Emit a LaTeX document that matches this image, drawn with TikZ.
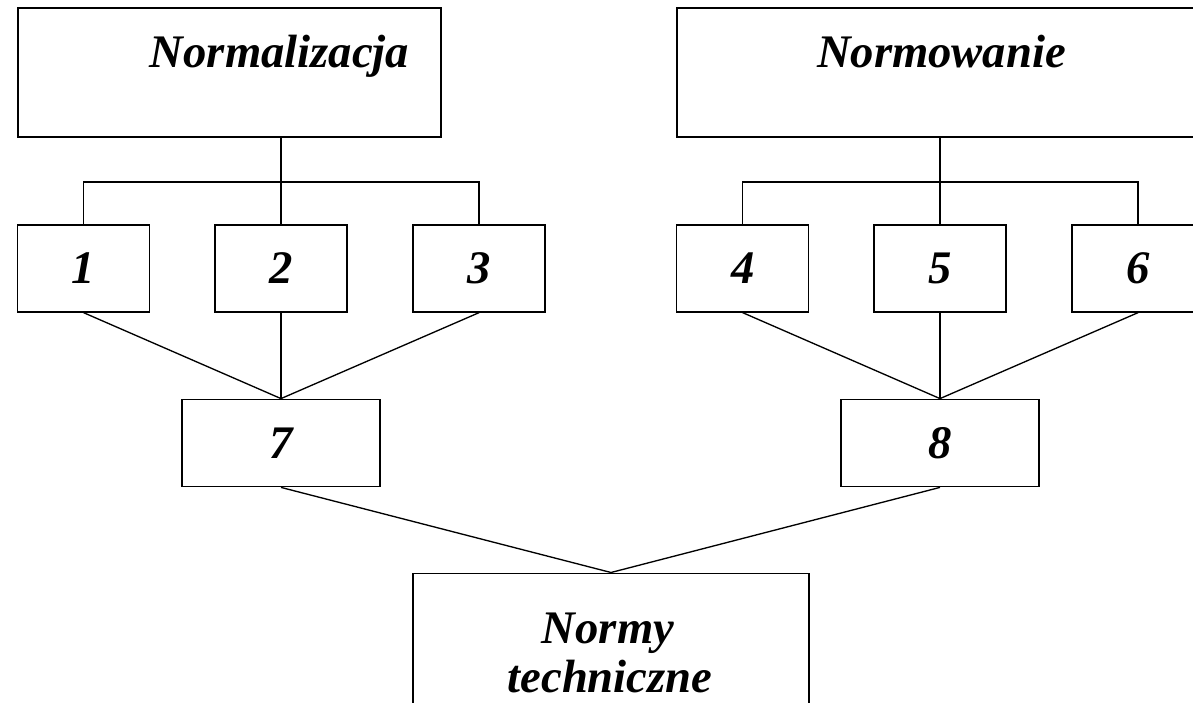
\documentclass[tikz,border=0pt]{standalone}
\usepackage{fontspec}
\setmainfont{Liberation Serif}
\begin{document}
\begin{tikzpicture}[x=0.75pt,y=-0.75pt,
  lbl/.style={font=\fontsize{35}{40}\selectfont\bfseries\itshape},
  bigbox/.style={draw,line width=1.5pt,rectangle,inner sep=0pt},
  smallbox/.style={draw,line width=1pt,rectangle,inner sep=0pt,lbl,
                   minimum width=99pt,minimum height=65.25pt},
  midbox/.style={draw,line width=1pt,rectangle,inner sep=0pt,lbl,
                 minimum width=148.5pt,minimum height=65.6pt},
  link/.style={line width=1pt}]
\useasboundingbox (0,0) rectangle (1193,703);
\clip (0,0) rectangle (1193,703);

% top boxes
\node[bigbox,minimum width=317.6pt,minimum height=96.75pt] (normA) at (229.25,72.5) {};
\node[bigbox,minimum width=392.25pt,minimum height=96.75pt] (normB) at (938.5,72.5) {};
\node[lbl,inner sep=0pt,anchor=base] (tA) at (279.5,67) {Normalizacja};
\node[lbl,inner sep=0pt,anchor=base] (tB) at (941.5,67) {Normowanie};

% numbered boxes
\node[smallbox] (b1) at (83.6,268.5) {1};
\node[smallbox] (b2) at (281,268.5) {2};
\node[smallbox] (b3) at (479,268.5) {3};
\node[smallbox] (b4) at (742.7,268.5) {4};
\node[smallbox] (b5) at (940,268.5) {5};
\node[smallbox] (b6) at (1138,268.5) {6};
\node[midbox] (b7) at (281,443) {7};
\node[midbox] (b8) at (940,443) {8};

% bottom box
\node[draw,line width=1pt,rectangle,inner sep=0pt,minimum width=297.2pt,minimum height=110pt] (nt) at (611,646.5) {};
\node[lbl,inner sep=0pt,anchor=base] (ntA) at (608,643) {Normy};
\node[lbl,inner sep=0pt,anchor=base] (ntB) at (610,692) {techniczne};

% branching under the top boxes
\coordinate (barA) at (281,182);
\coordinate (barB) at (940,182);
\draw[link] (b2.north |- normA.south) -- (b2.north);
\draw[link] (b1.north) -- (b1.north |- barA) -- (b3.north |- barA) -- (b3.north);
\draw[link] (b5.north |- normB.south) -- (b5.north);
\draw[link] (b4.north) -- (b4.north |- barB) -- (b6.north |- barB) -- (b6.north);

% merging lines
\draw[link] (b1.south) -- (b7.north);
\draw[link] (b2.south) -- (b7.north);
\draw[link] (b3.south) -- (b7.north);
\draw[link] (b4.south) -- (b8.north);
\draw[link] (b5.south) -- (b8.north);
\draw[link] (b6.south) -- (b8.north);
\draw[link] (b7.south) -- (nt.north);
\draw[link] (b8.south) -- (nt.north);
\end{tikzpicture}
\end{document}
